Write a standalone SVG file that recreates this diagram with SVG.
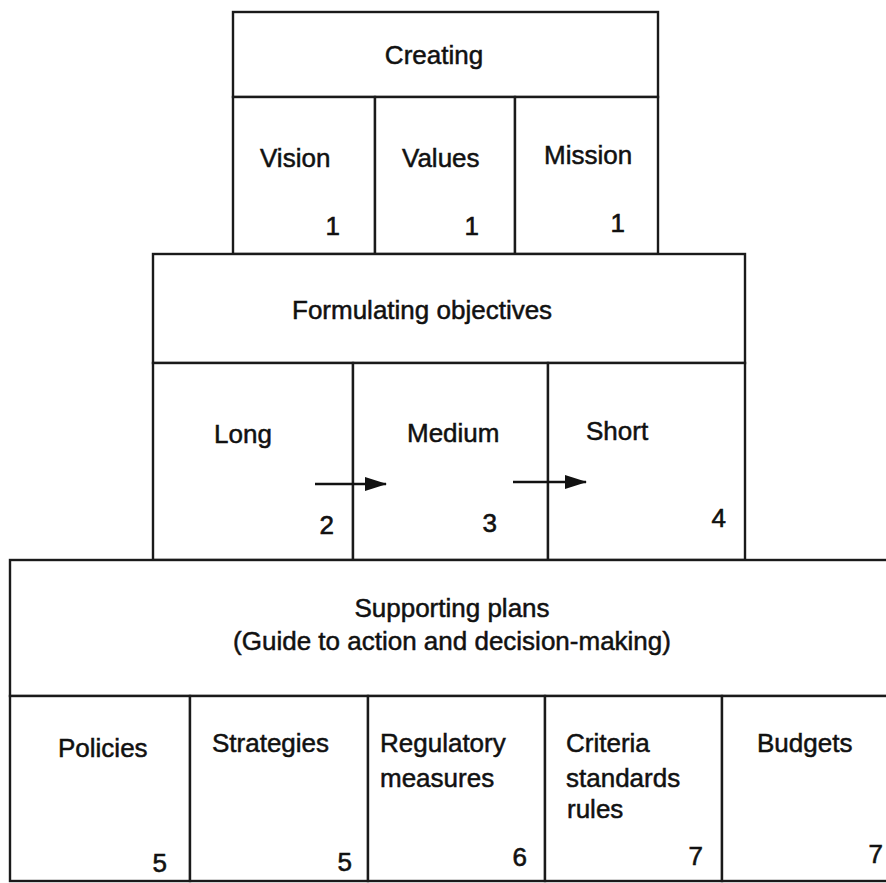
<svg xmlns="http://www.w3.org/2000/svg" width="886" height="883" viewBox="0 0 886 883">
<style>
.cell{fill:#fff;stroke:#1a1a1a;stroke-width:2.4}
.t{font-family:"Liberation Sans",Arial,sans-serif;font-size:26px;fill:#111;stroke:#111;stroke-width:0.5}
.n{font-family:"Liberation Sans",Arial,sans-serif;font-size:26px;fill:#111;stroke:#111;stroke-width:0.6;text-anchor:end}
.c{text-anchor:middle}
.arr{stroke:#111;stroke-width:2.4;fill:none}
</style>
<defs>
<marker id="ah" viewBox="0 0 22 14" refX="21" refY="7" markerWidth="22" markerHeight="14" markerUnits="userSpaceOnUse" orient="auto">
<path d="M0,0 L22,7 L0,14 z" fill="#111"/>
</marker>
</defs>
<rect width="886" height="883" fill="#fff"/>

<g id="creating"><rect class="cell" x="233" y="12" width="425" height="85"/><text class="t c" x="434" y="64">Creating</text></g>
<g id="vision"><rect class="cell" x="233" y="97" width="142" height="157"/><text class="t" x="260" y="167">Vision</text><text class="n" x="340" y="235">1</text></g>
<g id="values"><rect class="cell" x="375" y="97" width="140" height="157"/><text class="t" x="402" y="167">Values</text><text class="n" x="479" y="235">1</text></g>
<g id="mission"><rect class="cell" x="515" y="97" width="143" height="157"/><text class="t" x="544" y="164">Mission</text><text class="n" x="625" y="232">1</text></g>

<g id="formulating"><rect class="cell" x="153" y="254" width="592" height="109"/><text class="t" x="292" y="319">Formulating objectives</text></g>
<g id="long"><rect class="cell" x="153" y="363" width="200" height="197"/><text class="t" x="214" y="443">Long</text><text class="n" x="334" y="534">2</text></g>
<g id="medium"><rect class="cell" x="353" y="363" width="195" height="197"/><text class="t" x="407" y="442">Medium</text><text class="n" x="497" y="532">3</text></g>
<g id="short"><rect class="cell" x="548" y="363" width="197" height="197"/><text class="t" x="586" y="440">Short</text><text class="n" x="726" y="527">4</text></g>

<g id="supporting"><rect class="cell" x="10" y="560" width="886" height="136"/><text class="t c" x="452" y="617">Supporting plans</text><text class="t c" x="452" y="650">(Guide to action and decision-making)</text></g>
<g id="policies"><rect class="cell" x="10" y="696" width="180" height="185"/><text class="t" x="58" y="757">Policies</text><text class="n" x="167" y="872">5</text></g>
<g id="strategies"><rect class="cell" x="190" y="696" width="178" height="185"/><text class="t" x="212" y="752">Strategies</text><text class="n" x="352" y="871">5</text></g>
<g id="regulatory"><rect class="cell" x="368" y="696" width="177" height="185"/><text class="t" x="380" y="752">Regulatory</text><text class="t" x="380" y="787">measures</text><text class="n" x="527" y="866">6</text></g>
<g id="criteria"><rect class="cell" x="545" y="696" width="177" height="185"/><text class="t" x="566" y="752">Criteria</text><text class="t" x="566" y="787">standards</text><text class="t" x="567" y="818">rules</text><text class="n" x="703" y="865">7</text></g>
<g id="budgets"><rect class="cell" x="722" y="696" width="174" height="185"/><text class="t" x="757" y="752">Budgets</text><text class="n" x="883" y="863">7</text></g>

<g id="connectors">
<line class="arr" x1="315" y1="484" x2="386" y2="484" marker-end="url(#ah)"/>
<line class="arr" x1="513" y1="482" x2="586" y2="482" marker-end="url(#ah)"/>
</g>
</svg>
